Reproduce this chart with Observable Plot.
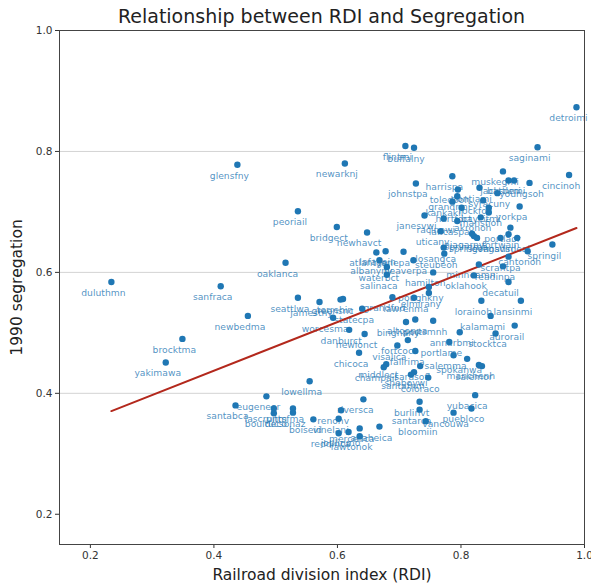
<!DOCTYPE html>
<html><head><meta charset="utf-8">
<script src="https://cdn.jsdelivr.net/npm/d3@7"></script>
<script src="https://cdn.jsdelivr.net/npm/@observablehq/plot@0.6"></script>
<style>
body{margin:0;background:#fff;font-family:"DejaVu Sans",sans-serif;}
#title{height:26px;line-height:32px;font-size:19px;color:#222;text-align:center;margin-left:59px;width:525px;white-space:nowrap;}
g[aria-label="y-axis label"] text, g[aria-label="x-axis label"] text{font-size:15.5px;fill:#222;}
</style>
</head><body>
<div id="title">Relationship between RDI and Segregation</div>
<div id="chart"></div>
<script>
const cities = ["detroimi","saginami","flintmi","buffalny","newarknj","glensfny","cincinoh","muskegmi","harrispa","jacksnmi",
"battlemi","youngsoh","johnstpa","pontiami","toledooh","syracuny","grandrmi","rockfoil","kankakil","yorkpa",
"hartfoct","baycitmi","mansfioh","peoriail","janesvwi","akronoh","racinewi","lancaspa","bridgect","portlaor",
"uticany","newhavct","niagarny","fortwain","springma","springoh","evansvin","gadsdeal","springil","losangca",
"steubeoh","cantonoh","atlantga","lafayein","eriepa","scrantpa","albanyny","beaverpa","oaklanca","minneamn",
"readinpa","waterbct","hamilton","salinaca","oklahook","duluthmn","decatuil","sanfraca","poughkny","elmirany",
"seattlwa","jamestny","greensnc","terrehin","grandfnd","lawrenma","lorainoh","lansinmi","statecpa","newbedma",
"worcesma","altoonpa","binghany","portsmnh","kalamami","aurorail","danburct","newlonct","annarbmi","stocktca",
"brocktma","fortcoco","portlame","visalica","fallrima","chicoca","salemma","spokanwa","yakimawa","middlect",
"manchenh","salemor","champail","sheboywi","santafnm","sarasofl","coloraco","lowellma","eugeneor","yubacica",
"riversca","burlinvt","santabca","puebloco","lascrunm","pittsfma","renonv","santarca","bouldeco","tucsonaz",
"vancouwa","boiseid","vinelanj","bloomiin","anaheica","mercedca","joplinmo","reddinca","lawtonok"];
const rdi = [0.987,0.924,0.710,0.724,0.612,0.438,0.975,0.868,0.786,0.877,
0.886,0.911,0.727,0.830,0.795,0.859,0.794,0.836,0.786,0.895,
0.801,0.845,0.845,0.536,0.741,0.832,0.772,0.794,0.599,0.880,
0.767,0.648,0.818,0.877,0.821,0.826,0.864,0.891,0.948,0.772,
0.773,0.908,0.663,0.678,0.707,0.877,0.668,0.723,0.516,0.829,
0.868,0.680,0.755,0.680,0.821,0.234,0.877,0.411,0.748,0.748,
0.536,0.571,0.605,0.609,0.689,0.724,0.833,0.897,0.640,0.455,
0.593,0.726,0.711,0.755,0.848,0.887,0.619,0.644,0.798,0.856,
0.349,0.714,0.781,0.697,0.726,0.635,0.788,0.810,0.322,0.679,
0.829,0.834,0.675,0.724,0.719,0.734,0.747,0.555,0.485,0.823,
0.642,0.733,0.435,0.817,0.497,0.528,0.606,0.733,0.497,0.528,
0.788,0.561,0.602,0.743,0.668,0.636,0.618,0.602,0.636];
const seg = [0.873,0.807,0.809,0.806,0.780,0.778,0.761,0.767,0.759,0.752,
0.752,0.748,0.747,0.740,0.737,0.731,0.726,0.719,0.717,0.709,
0.707,0.707,0.699,0.701,0.694,0.691,0.689,0.685,0.675,0.674,
0.668,0.666,0.664,0.663,0.660,0.657,0.657,0.657,0.646,0.641,
0.631,0.635,0.633,0.635,0.634,0.626,0.620,0.620,0.616,0.613,
0.610,0.609,0.600,0.596,0.595,0.584,0.584,0.577,0.576,0.566,
0.558,0.551,0.555,0.556,0.559,0.558,0.553,0.553,0.540,0.528,
0.525,0.522,0.518,0.520,0.528,0.512,0.505,0.498,0.501,0.499,
0.490,0.488,0.485,0.479,0.470,0.467,0.463,0.457,0.451,0.448,
0.447,0.445,0.443,0.435,0.431,0.445,0.426,0.420,0.395,0.397,
0.390,0.386,0.380,0.375,0.375,0.375,0.372,0.373,0.367,0.368,
0.368,0.357,0.358,0.354,0.345,0.342,0.336,0.334,0.329];
const xTicks = [0.2,0.4,0.6,0.8,1.0];
const yTicks = [0.2,0.4,0.6,0.8,1.0];
const gridTicks = [0.4,0.6,0.8];

const data = cities.map((c,i)=>({city:c, rdi:rdi[i], seg:seg[i]}));

const chart = Plot.plot({
  width:591, height:562,
  marginTop:4, marginLeft:59, marginRight:7, marginBottom:44,
  style:{fontFamily:"DejaVu Sans, sans-serif", fontSize:"10.5px", color:"#333", background:"#fff"},
  x:{domain:[0.15,1.0]},
  y:{domain:[0.15,1.0]},
  marks:[
    Plot.ruleY(gridTicks,{stroke:"#d3d3d3", strokeWidth:1}),
    Plot.axisX({ticks:xTicks, tickFormat:".1f", tickSize:4, tickPadding:3, label:"Railroad division index (RDI)", labelAnchor:"center", labelArrow:"none", labelOffset:35}),
    Plot.axisY({ticks:yTicks, tickFormat:".1f", tickSize:4, tickPadding:3, label:"1990 segregation", labelAnchor:"center", labelArrow:"none", labelOffset:49}),
    Plot.text(data,{x:"rdi", y:"seg", text:"city", dx:-8, dy:11, fill:"#1f77b4", fillOpacity:0.8, fontSize:9.2}),
    Plot.linearRegressionY(data,{x:"rdi", y:"seg", ci:0, stroke:"#b3281c", strokeWidth:2}),
    Plot.dot(data,{x:"rdi", y:"seg", r:3.2, fill:"#1f77b4", stroke:"none"}),
    Plot.frame({stroke:"#444", strokeWidth:1})
  ]
});
document.getElementById("chart").appendChild(chart);
</script>
</body></html>
